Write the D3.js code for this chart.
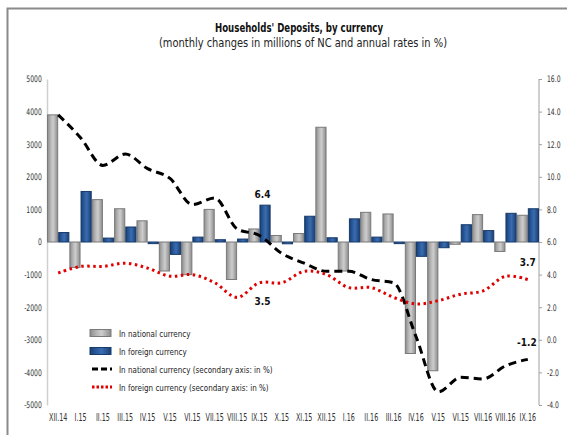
<!DOCTYPE html>
<html>
<head>
<meta charset="utf-8">
<script src="https://cdn.jsdelivr.net/npm/d3@7"></script>
<style>
  body { margin: 0; background: #fff; }
  svg text { font-family: "Liberation Sans Narrow", "DejaVu Sans Condensed", "Liberation Sans", sans-serif; }
</style>
</head>
<body>
<div class="chart"></div>
<script>
// chart data
var months = ["XII.14","I.15","II.15","III.15","IV.15","V.15","VI.15","VII.15","VIII.15","IX.15","X.15",
  "XI.15","XII.15","I.16","II.16","III.16","IV.16","V.15","VI.15","VII.16","VIII.16","IX.16"];
var nationalChange = [3900,-780,1300,1020,650,-890,-1000,1000,-1150,400,200,
  260,3520,-890,910,860,-3420,-3950,-70,840,-290,820];
var foreignChange = [290,1550,120,460,-50,-380,150,70,90,1130,-55,
  790,130,710,150,-50,-440,-175,530,350,880,1020];
var nationalRate = [13.8,12.4,10.7,11.4,10.5,9.9,8.3,8.7,6.8,6.4,5.3,
  4.7,4.2,4.2,3.7,3.5,0.2,-3.2,-2.3,-2.4,-1.6,-1.2];
var foreignRate = [4.1,4.5,4.5,4.7,4.4,3.9,4.0,3.5,2.6,3.5,3.5,
  4.2,4.0,3.2,3.2,2.6,2.2,2.4,2.8,3.0,3.9,3.7];
var leftTicks = [-5000,-4000,-3000,-2000,-1000,0,1000,2000,3000,4000,5000];
var rightTicks = [-4,-2,0,2,4,6,8,10,12,14,16];

var svgWidth = 567, svgHeight = 435;
var margin = {top: 79, right: 28, bottom: 30, left: 47};
var width = svgWidth - margin.left - margin.right;
var height = svgHeight - margin.top - margin.bottom;

var svg = d3.select(".chart").append("svg")
  .attr("width", svgWidth)
  .attr("height", svgHeight);

// gradients for the bevelled bars
var defs = svg.append("defs");
function bevel(id, dark, mid, light) {
  var g = defs.append("linearGradient").attr("id", id)
    .attr("x1", "0%").attr("x2", "100%").attr("y1", "0%").attr("y2", "0%");
  g.append("stop").attr("offset", "0%").attr("stop-color", dark);
  g.append("stop").attr("offset", "30%").attr("stop-color", mid);
  g.append("stop").attr("offset", "55%").attr("stop-color", light);
  g.append("stop").attr("offset", "100%").attr("stop-color", dark);
}
bevel("gradGray", "#8c8c8c", "#b4b4b4", "#cdcdcd");
bevel("gradBlue", "#1a3f73", "#2a5a9a", "#3a6cb0");

// outer frame
svg.append("path")
  .attr("d", "M7.5,435 L7.5,8.5 L567,8.5")
  .attr("fill", "none")
  .attr("stroke", "#8a8a8a")
  .attr("stroke-width", 2);

// titles
svg.append("text")
  .attr("x", 299).attr("y", 32)
  .attr("text-anchor", "middle")
  .attr("font-size", 12).attr("font-weight", "bold")
  .attr("fill", "#111")
  .attr("textLength", 168).attr("lengthAdjust", "spacingAndGlyphs")
  .text("Households' Deposits, by currency");
svg.append("text")
  .attr("x", 303).attr("y", 47)
  .attr("text-anchor", "middle")
  .attr("font-size", 11.5)
  .attr("fill", "#222")
  .attr("textLength", 288).attr("lengthAdjust", "spacingAndGlyphs")
  .text("(monthly changes in millions of NC and annual rates in %)");

var chartGroup = svg.append("g")
  .attr("transform", `translate(${margin.left}, ${margin.top})`);

// scales (index domain, since some month labels repeat)
var idx = d3.range(months.length);
var x0 = d3.scaleBand().domain(idx).range([0, width]).padding(0);
var x1 = d3.scaleBand().domain(["nat","for"]).range([0, x0.bandwidth()]).padding(0);
var yLeft = d3.scaleLinear().domain([-5000, 5000]).range([height, 0]);
var yRight = d3.scaleLinear().domain([-4, 16]).range([height, 0]);

// left axis
var leftAxis = d3.axisLeft(yLeft).tickValues(leftTicks).tickSize(0).tickPadding(7)
  .tickFormat(d => String(d));
var gl = chartGroup.append("g").call(leftAxis);
gl.select(".domain").attr("stroke", "#d0d0d0").attr("stroke-width", 1.5);
gl.selectAll("text").attr("font-size", 9).attr("fill", "#333")
  .attr("font-family", "'Liberation Serif', serif")
  .attr("transform", "scale(0.75,1)");

// right axis
var rightAxis = d3.axisRight(yRight).tickValues(rightTicks).tickSize(3).tickPadding(5)
  .tickFormat(d => d.toFixed(1));
var gr = chartGroup.append("g").attr("transform", `translate(${width}, 0)`).call(rightAxis);
gr.select(".domain").attr("stroke", "#a0a0a0").attr("d", `M0,0V${height}`);
gr.selectAll("line").attr("stroke", "#a0a0a0");
gr.selectAll("text").attr("font-size", 9).attr("fill", "#333")
  .attr("font-family", "'Liberation Serif', serif")
  .attr("transform", "translate(2,0) scale(0.75,1)");

// category labels
var bottomAxis = d3.axisBottom(x0).tickSize(0).tickPadding(9).tickFormat(i => months[i]);
var gb = chartGroup.append("g").attr("transform", `translate(0, ${height})`).call(bottomAxis);
gb.select(".domain").remove();
gb.selectAll("text").attr("font-size", 10.5).attr("fill", "#333")
  .attr("font-family", "'Liberation Serif', serif")
  .attr("transform", "scale(0.68,1)");

// bars
function drawBars(values, key, fill, edge) {
  chartGroup.append("g").selectAll("rect")
    .data(values)
    .enter()
    .append("rect")
    .attr("x", (d, i) => x0(i) + x1(key) + 0.5)
    .attr("width", x1.bandwidth() - 1)
    .attr("y", d => yLeft(Math.max(0, d)))
    .attr("height", d => Math.abs(yLeft(d) - yLeft(0)))
    .attr("fill", fill)
    .attr("stroke", edge)
    .attr("stroke-width", 1);
}
drawBars(nationalChange, "nat", "url(#gradGray)", "#7a7a7a");
drawBars(foreignChange, "for", "url(#gradBlue)", "#173a6a");

// rate lines on the secondary axis
var cx = (d, i) => x0(i) + x0.bandwidth() / 2;
var natLine = d3.line().x(cx).y(d => yRight(d)).curve(d3.curveMonotoneX);
var forLine = d3.line().x(cx).y(d => yRight(d)).curve(d3.curveCatmullRom.alpha(0.5));

chartGroup.append("path")
  .datum(nationalRate)
  .attr("d", natLine)
  .attr("fill", "none")
  .attr("stroke", "#000")
  .attr("stroke-width", 3)
  .attr("stroke-dasharray", "8,5");

chartGroup.append("path")
  .datum(foreignRate)
  .attr("d", forLine)
  .attr("fill", "none")
  .attr("stroke", "#e00000")
  .attr("stroke-width", 3)
  .attr("stroke-dasharray", "2.5,3.5");

// data labels
var labels = [
  {i: 9, v: nationalRate[9], dx: 3, dy: -37},
  {i: 9, v: foreignRate[9], dx: 3, dy: 22},
  {i: 21, v: foreignRate[21], dx: 0, dy: -13},
  {i: 21, v: nationalRate[21], dx: -1, dy: -13}
];
chartGroup.selectAll(".dlabel")
  .data(labels)
  .enter()
  .append("text")
  .attr("class", "dlabel")
  .attr("x", d => cx(null, d.i) + d.dx)
  .attr("y", d => yRight(d.v) + d.dy)
  .attr("text-anchor", "middle")
  .attr("font-size", 10)
  .attr("font-weight", "bold")
  .attr("fill", "#111")
  .text(d => d.v.toFixed(1));

// legend
var legendItems = [
  {name: "In national currency", type: "bar", fill: "url(#gradGray)", edge: "#7a7a7a"},
  {name: "In foreign currency", type: "bar", fill: "url(#gradBlue)", edge: "#173a6a"},
  {name: "In national currency (secondary axis: in %)", type: "line", color: "#000", dash: "6,3"},
  {name: "In foreign currency (secondary axis: in %)", type: "line", color: "#e00000", dash: "2.5,2"}
];
var legend = svg.append("g").attr("transform", "translate(90, 333)");
var li = legend.selectAll("g").data(legendItems).enter().append("g")
  .attr("transform", (d, i) => `translate(0, ${i * 18})`);
li.filter(d => d.type === "bar").append("rect")
  .attr("x", 0).attr("y", -3.5).attr("width", 21).attr("height", 7)
  .attr("fill", d => d.fill).attr("stroke", d => d.edge);
li.filter(d => d.type === "line").append("line")
  .attr("x1", 2).attr("x2", 22).attr("y1", 0).attr("y2", 0)
  .attr("stroke", d => d.color).attr("stroke-width", 3)
  .attr("stroke-dasharray", d => d.dash);
li.append("text")
  .attr("transform", "translate(29, 3.5) scale(0.84,1)")
  .attr("font-size", 9.5)
  .attr("fill", "#222")
  .text(d => d.name);
</script>
</body>
</html>
